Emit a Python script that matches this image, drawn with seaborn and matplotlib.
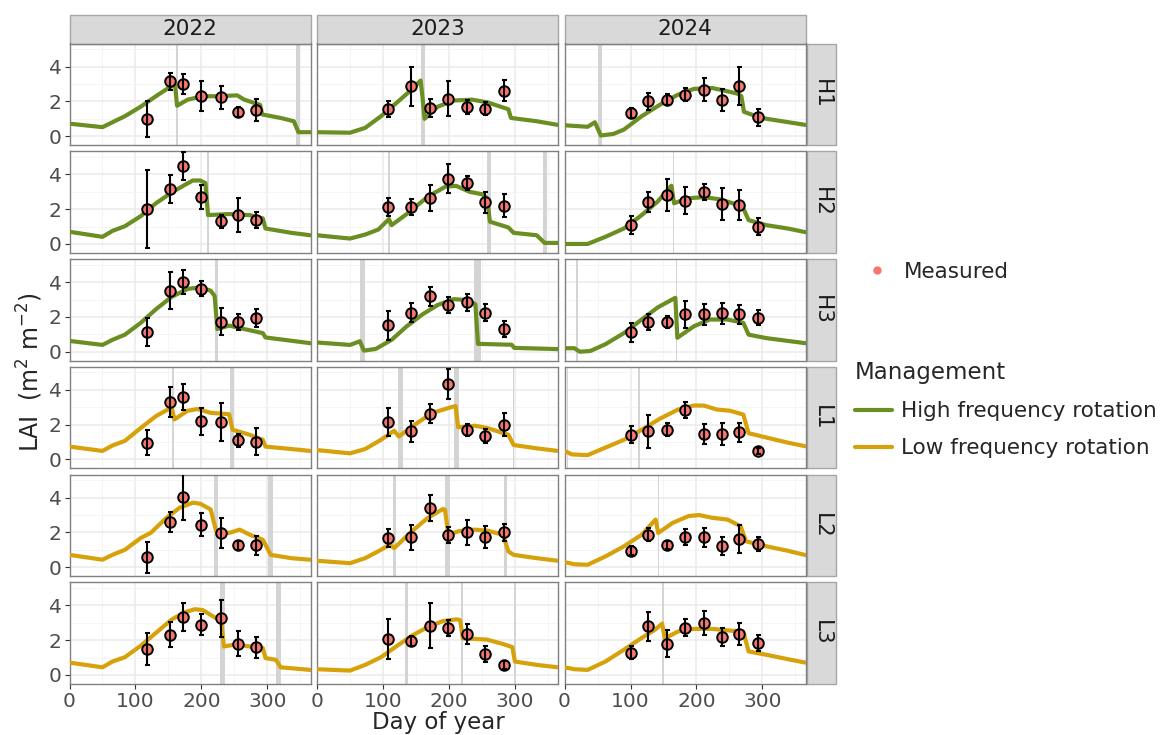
import numpy as np
import pandas as pd
import matplotlib.pyplot as plt
from matplotlib.lines import Line2D
from matplotlib.patches import Rectangle
import seaborn as sns

sns.set_theme(style="white")
plt.rcParams["font.family"] = ["DejaVu Sans"]

W, H = 1171, 735

years = [2022, 2023, 2024]
plots = ["H1", "H2", "H3", "L1", "L2", "L3"]
management = {"H": "High frequency rotation", "L": "Low frequency rotation"}
palette = {"High frequency rotation": "#6B8E23", "Low frequency rotation": "#D6A10A"}
x_ticks = [0, 100, 200, 300]
y_ticks = [0, 2, 4]

# sampling days of the measurements
meas_day_2022 = [118, 152, 172, 200, 229, 256, 283]
meas_day_2023 = [108, 143, 171, 199, 228, 255, 283]
meas_day_2024 = [101, 127, 156, 183, 211, 238, 265, 294]

# ---------------------------------------------------------------
# measured LAI: mean and sd
# ---------------------------------------------------------------
H1_2022_mean = [1.0, 3.15, 3.02, 2.3, 2.24, 1.4, 1.5]
H1_2022_sd = [1.05, 0.48, 0.58, 0.85, 0.65, 0.27, 0.65]
H1_2023_mean = [1.57, 2.87, 1.63, 2.16, 1.68, 1.59, 2.62]
H1_2023_sd = [0.48, 1.13, 0.5, 1.02, 0.38, 0.38, 0.59]
H1_2024_mean = [1.34, 2.0, 2.1, 2.39, 2.68, 2.07, 2.9, 1.09]
H1_2024_sd = [0.3, 0.47, 0.32, 0.38, 0.65, 0.62, 1.1, 0.5]

H2_2022_mean = [2.0, 3.17, 4.5, 2.69, 1.31, 1.66, 1.37]
H2_2022_sd = [2.25, 0.8, 0.8, 0.7, 0.37, 1.0, 0.45]
H2_2023_mean = [2.14, 2.14, 2.63, 3.75, 3.5, 2.4, 2.2]
H2_2023_sd = [0.52, 0.47, 0.75, 0.84, 0.38, 0.6, 0.66]
H2_2024_mean = [1.08, 2.43, 2.82, 2.49, 3.0, 2.3, 2.24, 0.99]
H2_2024_sd = [0.53, 0.57, 0.91, 0.77, 0.47, 0.9, 0.87, 0.49]

H3_2022_mean = [1.13, 3.51, 4.0, 3.61, 1.72, 1.7, 1.95]
H3_2022_sd = [0.8, 1.05, 0.68, 0.43, 0.77, 0.48, 0.51]
H3_2023_mean = [1.52, 2.24, 3.18, 2.67, 2.83, 2.24, 1.33]
H3_2023_sd = [0.83, 0.55, 0.53, 0.46, 0.49, 0.48, 0.46]
H3_2024_mean = [1.11, 1.7, 1.7, 2.15, 2.15, 2.2, 2.15, 1.95]
H3_2024_sd = [0.55, 0.44, 0.36, 0.78, 0.62, 0.61, 0.54, 0.43]

L1_2022_mean = [0.97, 3.3, 3.61, 2.19, 2.14, 1.09, 1.03]
L1_2022_sd = [0.7, 0.84, 0.75, 0.78, 1.08, 0.36, 0.78]
L1_2023_mean = [2.14, 1.61, 2.64, 4.33, 1.67, 1.36, 2.0]
L1_2023_sd = [0.8, 0.6, 0.52, 0.87, 0.34, 0.41, 0.68]
L1_2024_mean = [1.42, 1.61, 1.71, 2.83, 1.48, 1.48, 1.55, 0.49]
L1_2024_sd = [0.48, 0.95, 0.36, 0.45, 0.58, 0.63, 0.55, 0.15]

L2_2022_mean = [0.56, 2.59, 4.04, 2.45, 1.97, 1.26, 1.26]
L2_2022_sd = [0.87, 0.58, 1.3, 0.64, 0.86, 0.27, 0.55]
L2_2023_mean = [1.68, 1.72, 3.42, 1.87, 2.0, 1.74, 2.0]
L2_2023_sd = [0.5, 0.71, 0.75, 0.45, 0.7, 0.61, 0.47]
L2_2024_mean = [0.95, 1.87, 1.29, 1.72, 1.72, 1.24, 1.62, 1.33]
L2_2024_sd = [0.25, 0.38, 0.24, 0.45, 0.56, 0.51, 0.8, 0.42]

L3_2022_mean = [1.49, 2.32, 3.34, 2.9, 3.25, 1.8, 1.58]
L3_2022_sd = [0.9, 0.7, 0.82, 0.63, 1.07, 0.7, 0.58]
L3_2023_mean = [2.07, 1.93, 2.84, 2.71, 2.36, 1.2, 0.58]
L3_2023_sd = [1.13, 0.29, 1.29, 0.45, 0.58, 0.44, 0.22]
L3_2024_mean = [1.29, 2.8, 1.8, 2.71, 3.0, 2.18, 2.38, 1.84]
L3_2024_sd = [0.39, 0.84, 0.78, 0.49, 0.68, 0.54, 0.63, 0.46]

# ---------------------------------------------------------------
# simulated LAI (knots)
# ---------------------------------------------------------------
H1_2022_sim_day = [0, 50, 65, 84, 108, 131, 151, 160, 163, 179, 202, 226, 254, 265, 289, 292, 320, 340, 347, 365]
H1_2022_sim_lai = [0.72, 0.52, 0.8, 1.15, 1.7, 2.3, 2.8, 2.95, 1.75, 2.1, 2.3, 2.3, 2.35, 2.1, 1.8, 1.25, 1.05, 0.86, 0.23, 0.23]
H1_2023_sim_day = [0, 50, 73, 97, 120, 144, 157, 160, 163, 183, 207, 235, 258, 290, 294, 333, 365]
H1_2023_sim_lai = [0.23, 0.2, 0.48, 1.15, 1.9, 2.7, 3.2, 2.2, 1.0, 1.7, 2.05, 2.1, 1.95, 1.55, 1.05, 0.86, 0.65]
H1_2024_sim_day = [0, 35, 46, 55, 74, 90, 117, 145, 172, 196, 224, 247, 262, 268, 272, 298, 330, 365]
H1_2024_sim_lai = [0.63, 0.54, 0.8, 0.04, 0.13, 0.38, 1.15, 1.82, 2.39, 2.72, 2.77, 2.58, 2.45, 2.3, 1.4, 1.05, 0.86, 0.65]

H2_2022_sim_day = [0, 50, 65, 84, 108, 131, 155, 175, 187, 198, 206, 210, 242, 273, 293, 297, 336, 365]
H2_2022_sim_lai = [0.7, 0.41, 0.75, 1.02, 1.6, 2.34, 2.96, 3.4, 3.65, 3.65, 3.5, 1.66, 1.72, 1.66, 1.47, 0.89, 0.64, 0.5]
H2_2023_sim_day = [0, 50, 73, 93, 109, 113, 136, 168, 195, 211, 231, 250, 258, 262, 290, 298, 333, 345, 365]
H2_2023_sim_lai = [0.5, 0.31, 0.54, 0.83, 1.43, 1.08, 1.72, 2.72, 3.3, 3.34, 3.0, 2.86, 2.63, 1.28, 0.95, 0.64, 0.5, 0.06, 0.06]
H2_2024_sim_day = [0, 35, 62, 90, 117, 141, 162, 166, 188, 211, 235, 255, 271, 279, 306, 338, 365]
H2_2024_sim_lai = [0.0, 0.0, 0.41, 0.89, 1.66, 2.43, 3.35, 2.34, 2.63, 2.69, 2.57, 2.34, 2.05, 1.37, 1.08, 0.89, 0.68]

H3_2022_sim_day = [0, 50, 65, 84, 108, 131, 155, 179, 198, 214, 220, 224, 242, 265, 293, 297, 365]
H3_2022_sim_lai = [0.62, 0.39, 0.68, 0.98, 1.66, 2.44, 3.16, 3.61, 3.7, 3.51, 3.2, 1.3, 1.5, 1.3, 1.07, 0.82, 0.49]
H3_2023_sim_day = [0, 50, 65, 71, 89, 113, 136, 160, 183, 207, 227, 240, 244, 295, 299, 365]
H3_2023_sim_lai = [0.53, 0.39, 0.6, 0.06, 0.16, 0.68, 1.46, 2.15, 2.69, 3.02, 2.97, 2.73, 0.45, 0.4, 0.22, 0.15]
H3_2024_sim_day = [0, 15, 23, 39, 62, 90, 117, 141, 168, 171, 196, 220, 247, 271, 279, 306, 365]
H3_2024_sim_lai = [0.2, 0.2, 0.0, 0.04, 0.43, 1.07, 1.85, 2.54, 3.1, 0.8, 1.46, 1.85, 1.85, 1.66, 0.98, 0.78, 0.49]

L1_2022_sim_day = [0, 50, 65, 84, 108, 131, 155, 159, 179, 194, 214, 242, 247, 273, 293, 297, 336, 365]
L1_2022_sim_lai = [0.74, 0.49, 0.8, 1.07, 1.81, 2.49, 3.0, 2.3, 2.8, 2.9, 2.68, 2.6, 1.71, 1.42, 1.13, 0.74, 0.6, 0.49]
L1_2023_sim_day = [0, 50, 73, 97, 117, 124, 152, 175, 203, 210, 214, 239, 258, 290, 298, 333, 365]
L1_2023_sim_lai = [0.54, 0.35, 0.6, 1.13, 1.65, 1.32, 2.1, 2.68, 3.0, 3.07, 1.85, 1.94, 1.81, 1.42, 0.83, 0.64, 0.49]
L1_2024_sim_day = [0, 11, 35, 62, 90, 117, 145, 172, 196, 211, 231, 251, 271, 279, 306, 338, 365]
L1_2024_sim_lai = [0.49, 0.29, 0.25, 0.68, 1.13, 1.71, 2.35, 2.87, 3.1, 3.1, 2.87, 2.8, 2.58, 1.51, 1.26, 0.97, 0.76]

L2_2022_sim_day = [0, 50, 65, 84, 108, 123, 147, 167, 187, 198, 214, 222, 242, 258, 273, 293, 305, 336, 365]
L2_2022_sim_lai = [0.71, 0.43, 0.71, 1.0, 1.68, 1.97, 2.84, 3.42, 3.71, 3.65, 3.32, 2.1, 1.97, 2.16, 1.87, 1.58, 0.71, 0.52, 0.43]
L2_2023_sim_day = [0, 50, 73, 97, 110, 117, 144, 168, 191, 194, 199, 215, 239, 258, 282, 290, 298, 333, 365]
L2_2023_sim_lai = [0.37, 0.23, 0.52, 1.0, 1.3, 1.1, 2.07, 2.84, 3.35, 3.3, 1.87, 2.07, 2.16, 2.1, 1.87, 0.91, 0.71, 0.52, 0.37]
L2_2024_sim_day = [0, 15, 35, 62, 90, 117, 138, 142, 164, 188, 204, 224, 247, 267, 275, 306, 338, 365]
L2_2024_sim_lai = [0.29, 0.17, 0.14, 0.62, 1.2, 1.87, 2.74, 1.97, 2.55, 2.94, 3.0, 2.84, 2.74, 2.36, 1.49, 1.2, 0.95, 0.7]

L3_2022_sim_day = [0, 50, 65, 84, 108, 131, 155, 175, 190, 202, 217, 230, 234, 250, 273, 293, 297, 313, 320, 365]
L3_2022_sim_lai = [0.71, 0.44, 0.77, 1.02, 1.68, 2.42, 3.19, 3.61, 3.78, 3.73, 3.38, 3.09, 1.64, 1.74, 1.64, 1.55, 0.97, 0.87, 0.44, 0.29]
L3_2023_sim_day = [0, 50, 73, 97, 120, 144, 168, 191, 212, 217, 221, 239, 258, 282, 296, 300, 333, 365]
L3_2023_sim_lai = [0.33, 0.25, 0.58, 1.02, 1.64, 2.26, 2.76, 3.1, 3.2, 3.15, 2.1, 2.07, 2.03, 1.78, 1.6, 0.77, 0.58, 0.44]
L3_2024_sim_day = [0, 15, 35, 62, 90, 117, 137, 148, 152, 172, 196, 224, 251, 271, 279, 306, 338, 365]
L3_2024_sim_lai = [0.44, 0.33, 0.29, 0.77, 1.45, 2.13, 2.6, 2.95, 2.1, 2.5, 2.65, 2.65, 2.55, 2.5, 1.35, 1.16, 0.91, 0.71]

# management events (grey bands), start/end day
H1_2022_bands = [(161, 164), (343, 349)]
H1_2023_bands = [(158, 164)]
H1_2024_bands = [(51, 57)]
H2_2022_bands = [(208, 212)]
H2_2023_bands = [(108, 110), (258, 264), (343, 349)]
H2_2024_bands = [(164, 166)]
H3_2022_bands = [(220, 225)]
H3_2023_bands = [(65, 73), (238, 249)]
H3_2024_bands = [(18, 20), (169, 171)]
L1_2022_bands = [(155, 159), (244, 250)]
L1_2023_bands = [(123, 131), (207, 215), (297, 299)]
L1_2024_bands = [(3, 5), (112, 114)]
L2_2022_bands = [(219, 225), (301, 309)]
L2_2023_bands = [(115, 119), (194, 202), (284, 288)]
L2_2024_bands = [(141, 143)]
L3_2022_bands = [(228, 236), (313, 321)]
L3_2023_bands = [(134, 138), (218, 222), (299, 301)]
L3_2024_bands = [(147, 151)]


def get(name):
    return globals()[name]


sim_rows, meas_rows = [], []
for p in plots:
    mg = management[p[0]]
    for yr in years:
        for d, v in zip(get(f"{p}_{yr}_sim_day"), get(f"{p}_{yr}_sim_lai")):
            sim_rows.append({"site": p, "year": yr, "day": d, "lai": v, "management": mg})
        for d, m, s in zip(get(f"meas_day_{yr}"), get(f"{p}_{yr}_mean"), get(f"{p}_{yr}_sd")):
            meas_rows.append({"site": p, "year": yr, "day": d, "lai": m, "sd": s})
sim = pd.DataFrame(sim_rows)
meas = pd.DataFrame(meas_rows)

# ---------------------------------------------------------------
# figure
# ---------------------------------------------------------------
fig, axes = plt.subplots(
    6, 3, figsize=(W / 100, H / 100), dpi=100, sharex=True, sharey=True,
    gridspec_kw=dict(left=69.5 / W, right=806 / W, top=1 - 43.5 / H, bottom=1 - 684 / H,
                     wspace=0.025, hspace=0.059),
)

strip_h = 29 / 101.8
strip_w = 29 / 241.5

for i, p in enumerate(plots):
    for j, yr in enumerate(years):
        ax = axes[i, j]
        for a, b in get(f"{p}_{yr}_bands"):
            ax.axvspan(a, b, color="#D4D4D4", lw=0, zorder=1)

        s = sim[(sim["site"] == p) & (sim["year"] == yr)]
        sns.lineplot(data=s, x="day", y="lai", hue="management", palette=palette,
                     estimator=None, sort=False, lw=3.0, legend=False, ax=ax, zorder=3)

        m = meas[(meas["site"] == p) & (meas["year"] == yr)]
        sns.scatterplot(data=m, x="day", y="lai", color="#F8766D", edgecolor="black",
                        linewidth=1.4, s=58, legend=False, ax=ax, zorder=4)
        ax.errorbar(m["day"], m["lai"], yerr=m["sd"], fmt="none", ecolor="black",
                    elinewidth=1.5, capsize=1.8, capthick=1.5, zorder=5)

        ax.set_xlim(0, 366)
        ax.set_ylim(-0.52, 5.33)
        ax.set_xticks(x_ticks)
        ax.set_xticks([50, 150, 250, 350], minor=True)
        ax.set_yticks(y_ticks)
        ax.set_yticks([1, 3, 5], minor=True)
        ax.grid(which="major", color="#EBEBEB", lw=1.1)
        ax.grid(which="minor", color="#F4F4F4", lw=0.6)
        ax.set_axisbelow(True)
        ax.set_xlabel("")
        ax.set_ylabel("")
        for sp in ax.spines.values():
            sp.set_color("#808080")
            sp.set_linewidth(1.0)

        ax.tick_params(which="major", length=3.5, width=0.8, color="#333333",
                       labelsize=14.5, labelcolor="#4D4D4D", pad=2,
                       left=(j == 0), bottom=(i == 5),
                       labelleft=(j == 0), labelbottom=(i == 5))
        ax.tick_params(which="minor", length=0)

        if i == 0:
            ax.add_patch(Rectangle((0, 1), 1, strip_h, transform=ax.transAxes,
                                   facecolor="#D9D9D9", edgecolor="#A6A6A6", lw=1.0, clip_on=False))
            ax.text(0.5, 1 + strip_h / 2, str(yr), transform=ax.transAxes, ha="center",
                    va="center", fontsize=15.5, color="#1A1A1A")
        if j == 2:
            ax.add_patch(Rectangle((1.004, 0), strip_w, 1, transform=ax.transAxes,
                                   facecolor="#D9D9D9", edgecolor="#A6A6A6", lw=1.0, clip_on=False))
            ax.text(1.004 + strip_w / 2, 0.5, p, transform=ax.transAxes, ha="center",
                    va="center", rotation=-90, fontsize=15.5, color="#1A1A1A")

fig.text(438 / W, 1 - 723 / H, "Day of year", ha="center", va="center", fontsize=16.5)
fig.text(30 / W, 1 - 372 / H, "LAI  (m$^2$ m$^{-2}$)", ha="center", va="center",
         rotation=90, fontsize=17)

# legends
meas_handle = Line2D([], [], ls="none", marker="o", ms=6, mfc="#F8766D", mec="none")
fig.legend([meas_handle], ["Measured"], loc="center left",
           bbox_to_anchor=(855 / W, 1 - 272 / H), frameon=False, fontsize=15.5,
           handlelength=2.0, handletextpad=0.25, borderpad=0, borderaxespad=0)

mg_labels = list(palette.keys())
mg_handles = [Line2D([], [], color=palette[k], lw=3.0) for k in mg_labels]
fig.legend(mg_handles, mg_labels, title="Management", loc="upper left",
           bbox_to_anchor=(855 / W, 1 - 361 / H), frameon=False, fontsize=15.5,
           title_fontsize=16.5, alignment="left", handlelength=1.7, handletextpad=0.45,
           labelspacing=0.8, borderpad=0, borderaxespad=0)

plt.savefig("out.png", dpi=100)
plt.close()
